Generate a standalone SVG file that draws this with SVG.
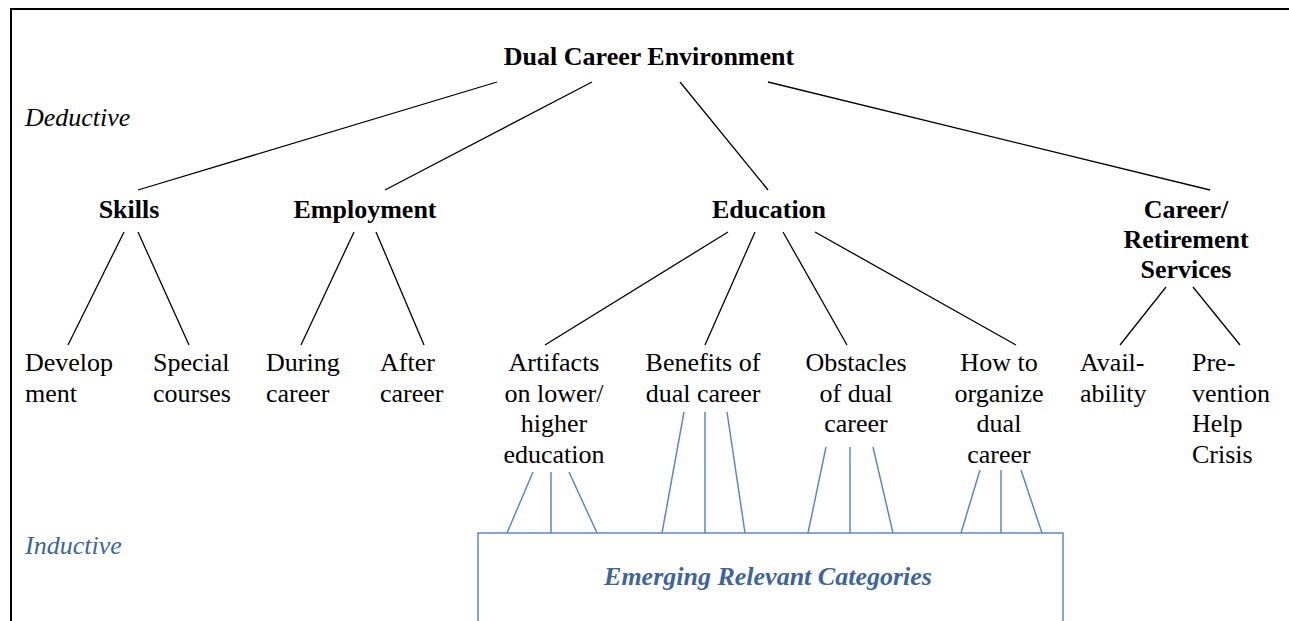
<svg xmlns="http://www.w3.org/2000/svg" width="1289" height="621" viewBox="0 0 1289 621" font-family="Liberation Serif, DejaVu Serif, serif">
<style>
text{font-size:26px;fill:#000}
.b{font-weight:bold}
.c{text-anchor:middle}
.it{font-style:italic}
.blue{fill:#3e659a}
.k line{stroke:#000;stroke-width:1.3}
.bl line{stroke:#5a88c4;stroke-width:1.5}
</style>
<rect width="1289" height="621" fill="#fff"/>
<path d="M11,621 V9 H1289" fill="none" stroke="#000" stroke-width="2"/>
<text x="25" y="126" class="it" font-family="Liberation Serif, DejaVu Serif, serif">Deductive</text>
<text x="25" y="554" class="it blue" font-family="Liberation Serif, DejaVu Serif, serif">Inductive</text>
<g id="connectors">
<g class="k">
<line x1="497" y1="82" x2="138" y2="190"/>
<line x1="592" y1="82" x2="385" y2="190"/>
<line x1="680" y1="82" x2="768" y2="190"/>
<line x1="768" y1="82" x2="1210" y2="190"/>
<line x1="124" y1="232" x2="68" y2="345"/>
<line x1="138" y1="232" x2="189" y2="345"/>
<line x1="354" y1="232" x2="301" y2="345"/>
<line x1="376" y1="232" x2="424" y2="345"/>
<line x1="728" y1="232" x2="545" y2="345"/>
<line x1="755" y1="232" x2="705" y2="345"/>
<line x1="783" y1="232" x2="847" y2="345"/>
<line x1="815" y1="232" x2="1016" y2="345"/>
<line x1="1166" y1="287" x2="1120" y2="345"/>
<line x1="1193" y1="287" x2="1240" y2="345"/>
</g>
<g class="bl">
<line x1="533" y1="472" x2="507" y2="533"/>
<line x1="551" y1="472" x2="551" y2="533"/>
<line x1="569" y1="472" x2="597" y2="533"/>
<line x1="684" y1="412" x2="662" y2="533"/>
<line x1="705" y1="412" x2="705" y2="533"/>
<line x1="727" y1="412" x2="745" y2="533"/>
<line x1="826" y1="447" x2="808" y2="533"/>
<line x1="850" y1="447" x2="850" y2="533"/>
<line x1="873" y1="447" x2="893" y2="533"/>
<line x1="980" y1="470" x2="961" y2="533"/>
<line x1="1001" y1="470" x2="1001" y2="533"/>
<line x1="1021" y1="470" x2="1042" y2="533"/>
</g>
</g>
<g id="root" font-family="Liberation Serif, DejaVu Serif, serif"><text x="649" y="65" class="b c">Dual Career Environment</text></g>
<g id="skills" font-family="Liberation Serif, DejaVu Serif, serif"><text x="129" y="218" class="b c">Skills</text></g>
<g id="employment" font-family="Liberation Serif, DejaVu Serif, serif"><text x="365" y="218" class="b c">Employment</text></g>
<g id="education" font-family="Liberation Serif, DejaVu Serif, serif"><text x="769" y="218" class="b c">Education</text></g>
<g id="career" font-family="Liberation Serif, DejaVu Serif, serif"><text class="b c"><tspan x="1186" y="218">Career/</tspan><tspan x="1186" y="248">Retirement</tspan><tspan x="1186" y="278">Services</tspan></text></g>
<g id="development" font-family="Liberation Serif, DejaVu Serif, serif"><text><tspan x="25" y="371">Develop</tspan><tspan x="25" y="402">ment</tspan></text></g>
<g id="special" font-family="Liberation Serif, DejaVu Serif, serif"><text><tspan x="153" y="371">Special</tspan><tspan x="153" y="402">courses</tspan></text></g>
<g id="during" font-family="Liberation Serif, DejaVu Serif, serif"><text><tspan x="266" y="371">During</tspan><tspan x="266" y="402">career</tspan></text></g>
<g id="after" font-family="Liberation Serif, DejaVu Serif, serif"><text><tspan x="380" y="371">After</tspan><tspan x="380" y="402">career</tspan></text></g>
<g id="artifacts" font-family="Liberation Serif, DejaVu Serif, serif"><text class="c"><tspan x="554" y="371">Artifacts</tspan><tspan x="554" y="402">on lower/</tspan><tspan x="554" y="432">higher</tspan><tspan x="554" y="463">education</tspan></text></g>
<g id="benefits" font-family="Liberation Serif, DejaVu Serif, serif"><text class="c"><tspan x="703" y="371">Benefits of</tspan><tspan x="703" y="402">dual career</tspan></text></g>
<g id="obstacles" font-family="Liberation Serif, DejaVu Serif, serif"><text class="c"><tspan x="856" y="371">Obstacles</tspan><tspan x="856" y="402">of dual</tspan><tspan x="856" y="432">career</tspan></text></g>
<g id="howto" font-family="Liberation Serif, DejaVu Serif, serif"><text class="c"><tspan x="999" y="371">How to</tspan><tspan x="999" y="402">organize</tspan><tspan x="999" y="432">dual</tspan><tspan x="999" y="463">career</tspan></text></g>
<g id="availability" font-family="Liberation Serif, DejaVu Serif, serif"><text><tspan x="1080" y="371">Avail-</tspan><tspan x="1080" y="402">ability</tspan></text></g>
<g id="prevention" font-family="Liberation Serif, DejaVu Serif, serif"><text><tspan x="1192" y="371">Pre-</tspan><tspan x="1192" y="402">vention</tspan><tspan x="1192" y="432">Help</tspan><tspan x="1192" y="463">Crisis</tspan></text></g>
<g id="emerging" font-family="Liberation Serif, DejaVu Serif, serif">
<path d="M478,622 V533 H1063 V622" fill="none" stroke="#5a88c4" stroke-width="1.5"/>
<text x="768" y="585" class="b it c blue">Emerging Relevant Categories</text>
</g>
</svg>
